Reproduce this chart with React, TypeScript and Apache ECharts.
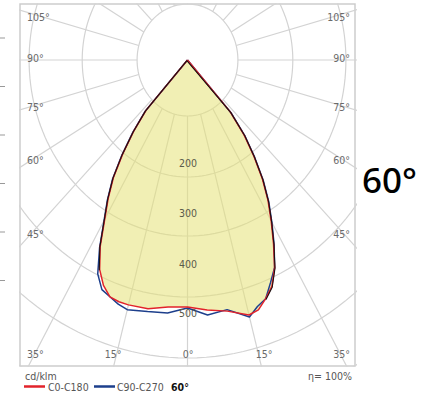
import React, { useEffect, useRef } from "react";
import * as echarts from "echarts";

// gamma angles (deg from nadir) and luminous intensities (cd/klm)
const gammaAngles = [0, 5, 10, 15, 17.5, 20, 22.5, 25, 27.5, 30, 32.5, 35, 37.5, 40, 42.5, 45];
const redC0 = [494, 502, 510, 528, 524, 508, 490, 458, 414, 372, 333, 290, 242, 196, 140, 0];
const redC180 = [494, 496, 505, 507, 507, 504, 488, 462, 420, 368, 328, 287, 236, 186, 136, 0];
const blueC90 = [496, 512, 507, 532, 517, 508, 482, 458, 417, 375, 336, 293, 245, 199, 143, 0];
const blueC270 = [496, 508, 511, 517, 512, 504, 497, 472, 423, 371, 331, 290, 239, 189, 139, 0];

const ringValues = [112, 234, 352, 474, 596, 716];
const spokeAngles = [0, 15, 30, 45, 60, 75, 90, 105, 120, 135, 150, 165, 180];
const intensityLabels = ["200", "300", "400", "500"];
const sideAngleLabels = ["105°", "90°", "75°", "60°", "45°"];
const bottomAngleLabels = ["35°", "15°", "0°", "15°", "35°"];
const legendNames = ["C0-C180", "C90-C270"];
const beamLabel = "60°";
const unitLabel = "cd/klm";
const effLabel = "η= 100%";

const RED = "#e2232b";
const BLUE = "#1d3f8c";
const GRID = "#d3d3d3";
const FONT = "'Liberation Sans Narrow', 'DejaVu Sans Condensed', 'Roboto', sans-serif";

const rad = (d: number) => (d * Math.PI) / 180;
const pt = (g: number, I: number, side: number) => [side * I * Math.sin(rad(g)), -I * Math.cos(rad(g))];

function curve(left: number[], right: number[]) {
  const pts: number[][] = [];
  for (let i = gammaAngles.length - 1; i >= 0; i--) pts.push(pt(gammaAngles[i], left[i], -1));
  for (let i = 1; i < gammaAngles.length; i++) pts.push(pt(gammaAngles[i], right[i], 1));
  return pts;
}

export default function App() {
  const ref = useRef<HTMLDivElement>(null);
  useEffect(() => {
    if (!ref.current) return;
    const chart = echarts.init(ref.current, undefined, { renderer: "svg" });
    const series: any[] = [];
    // rings
    ringValues.forEach((r) => {
      const d: number[][] = [];
      for (let a = 0; a <= 360; a += 2) d.push([r * Math.sin(rad(a)), -r * Math.cos(rad(a))]);
      series.push({
        type: "line", data: d, showSymbol: false, silent: true, clip: true, z: 1,
        lineStyle: { color: GRID, width: 1.2 },
      });
    });
    // spokes
    spokeAngles.forEach((g) => {
      [-1, 1].forEach((s) => {
        if ((g === 0 || g === 180) && s === -1) return;
        series.push({
          type: "line", data: [pt(g, ringValues[0], s), pt(g, 1000, s)], showSymbol: false,
          silent: true, clip: true, z: 1, lineStyle: { color: GRID, width: 1.2 },
        });
      });
    });
    const red = curve(redC180, redC0);
    const blue = curve(blueC270, blueC90);
    // fill
    series.push({
      type: "custom", z: 2, silent: true, data: [[0, 0]],
      renderItem: (_p: any, api: any) => ({
        type: "polygon",
        shape: { points: red.map((p) => api.coord(p)) },
        style: { fill: "rgba(230,225,118,0.55)" },
      }),
    });
    series.push({ type: "line", data: blue, showSymbol: false, silent: true, z: 3, lineStyle: { color: BLUE, width: 1.5 } });
    series.push({ type: "line", data: red, showSymbol: false, silent: true, z: 4, lineStyle: { color: RED, width: 1.5 } });
    // common (overlapping) outline: lower-left -> tip -> lower-right
    const black: number[][] = [];
    for (let i = 0; i < gammaAngles.length; i++) if (gammaAngles[i] >= 25) black.push(pt(gammaAngles[i], redC180[i] + 2, -1));
    for (let i = gammaAngles.length - 2; i >= 0; i--) if (gammaAngles[i] >= 20) black.push(pt(gammaAngles[i], redC0[i] + 2, 1));
    series.push({ type: "line", data: black, showSymbol: false, silent: true, z: 5, lineStyle: { color: "#1a1010", width: 1.1 } });

    const txt = (t: string, x: number, y: number, align: string, extra: any = {}) => ({
      type: "text", x, y, z: 100, silent: true,
      style: { text: t, fill: "#6a6a6a", font: `10.5px ${FONT}`, textAlign: align, textVerticalAlign: "middle", ...extra },
    });
    const graphic: any[] = [];
    const sideY = [17, 58, 107, 160, 234];
    sideAngleLabels.forEach((t, i) => {
      graphic.push(txt(t, 27, sideY[i], "left"));
      graphic.push(txt(t, 350, sideY[i], "right"));
    });
    const bottomX = [27, 113, 188, 264, 350];
    const bottomAlign = ["left", "center", "center", "center", "right"];
    bottomAngleLabels.forEach((t, i) => graphic.push(txt(t, bottomX[i], 354, bottomAlign[i])));
    const intY = [163, 213, 264, 313];
    intensityLabels.forEach((t, i) => graphic.push(txt(t, 188, intY[i], "center", { fill: "#5a5a4a" })));
    graphic.push(txt(unitLabel, 25, 376, "left", { fill: "#555" }));
    graphic.push(txt(effLabel, 352, 376, "right", { fill: "#555" }));
    graphic.push({ type: "line", z: 100, shape: { x1: 24, y1: 386.5, x2: 45, y2: 386.5 }, style: { stroke: RED, lineWidth: 2.5 } });
    graphic.push(txt(legendNames[0], 48, 387, "left", { fill: "#555" }));
    graphic.push({ type: "line", z: 100, shape: { x1: 94, y1: 386.5, x2: 115, y2: 386.5 }, style: { stroke: BLUE, lineWidth: 2.5 } });
    graphic.push(txt(legendNames[1], 117, 387, "left", { fill: "#555" }));
    graphic.push(txt(beamLabel, 171, 387, "left", { fill: "#111", font: `bold 10.5px ${FONT}` }));
    graphic.push({
      type: "text", x: 362, y: 179, z: 100,
      style: { text: beamLabel, fill: "#000", font: "500 35px 'Noto Sans', sans-serif", textAlign: "left", textVerticalAlign: "middle" },
    });
    for (let i = 0; i < 6; i++) {
      const y = 38 + 48.5 * i;
      graphic.push({ type: "line", z: 100, shape: { x1: 0, y1: y, x2: 5, y2: y }, style: { stroke: "#999", lineWidth: 1 } });
    }

    chart.setOption({
      animation: false,
      backgroundColor: "#fff",
      grid: { left: 20, top: 4, width: 335, height: 362, show: true, borderColor: "#cdcdcd", borderWidth: 1.5, backgroundColor: "transparent" },
      xAxis: { type: "value", min: -372.2, max: 372.2, show: false },
      yAxis: { type: "value", min: -612, max: 112, show: false },
      series,
      graphic,
    });
    return () => chart.dispose();
  }, []);
  return <div ref={ref} style={{ position: "fixed", left: 0, top: 0, width: 430, height: 398 }} />;
}
